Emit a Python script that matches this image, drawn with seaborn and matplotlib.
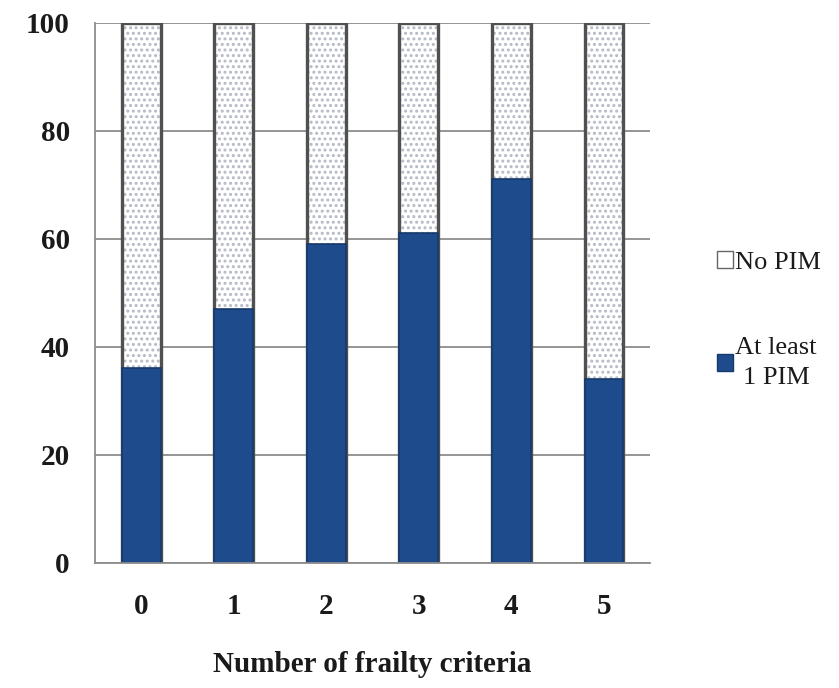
import matplotlib
matplotlib.use("Agg")
import matplotlib.pyplot as plt
import seaborn as sns
import pandas as pd
from matplotlib.patches import Patch

categories = ["0", "1", "2", "3", "4", "5"]
at_least_1_pim = [36, 47, 59, 61, 71, 34]
no_pim = [64, 53, 41, 39, 29, 66]
yticks = [0, 20, 40, 60, 80, 100]

sns.set_theme(style="white")
plt.rcParams["font.family"] = ["Liberation Serif", "DejaVu Serif"]
plt.rcParams["hatch.linewidth"] = 1.4

df = pd.DataFrame({"cat": categories,
                   "pim": at_least_1_pim,
                   "total": [a + b for a, b in zip(at_least_1_pim, no_pim)]})

BLUE = "#1e4b8c"

fig = plt.figure(figsize=(8.39, 6.88), dpi=100)
ax = fig.add_axes([0.113, 0.182, 0.662, 0.785])

sns.barplot(data=df, x="cat", y="total", ax=ax, color="white", width=0.42,
            edgecolor="#b4bac4", linewidth=0, hatch="...", saturation=1)
n = len(categories)
sns.barplot(data=df, x="cat", y="total", ax=ax, fill=False, width=0.42,
            edgecolor="#505050", linewidth=2.4, saturation=1)
sns.barplot(data=df, x="cat", y="pim", ax=ax, color=BLUE, width=0.42,
            edgecolor="#163a6c", linewidth=1.2, saturation=1)

ax.set_ylim(0, 100)
ax.set_xlim(-0.5, n - 0.5)
ax.set_yticks(yticks)
ax.yaxis.grid(True, color="#8c8c8c", linewidth=1.3)
ax.set_axisbelow(True)
for s in ["top", "right"]:
    ax.spines[s].set_visible(False)
ax.spines["left"].set_color("#8c8c8c")
ax.spines["left"].set_linewidth(1.3)
ax.spines["bottom"].set_color("#8c8c8c")
ax.spines["bottom"].set_linewidth(1.3)

ax.tick_params(axis="y", length=0, pad=18, labelsize=21)
ax.tick_params(axis="x", length=0, pad=22, labelsize=21)
for lbl in ax.get_yticklabels() + ax.get_xticklabels():
    lbl.set_fontweight("bold")
    lbl.set_color("#1a1a1a")
ax.set_xticks([i - 0.5 for i in range(n + 1)], minor=True)
ax.tick_params(axis="x", which="minor", length=5, color="#8c8c8c", width=1.3, direction="out")

ax.set_xlabel("Number of frailty criteria", fontsize=21, fontweight="bold",
              labelpad=22, color="#1a1a1a")
ax.set_ylabel("")

handles = [Patch(facecolor="white", edgecolor="#666666", label="No PIM"),
           Patch(facecolor=BLUE, edgecolor="#163a6c", label="At least\n1 PIM")]
leg = fig.legend(handles=handles, loc="center left", bbox_to_anchor=(0.826, 0.535),
                 frameon=False, fontsize=19, handlelength=0.6, handleheight=0.6,
                 handletextpad=0.1, labelspacing=2.4)
for t in leg.get_texts():
    t.set_multialignment("center")
    t.set_color("#1a1a1a")
    t.set_linespacing(1.45)

fig.savefig("out.png", dpi=100)
